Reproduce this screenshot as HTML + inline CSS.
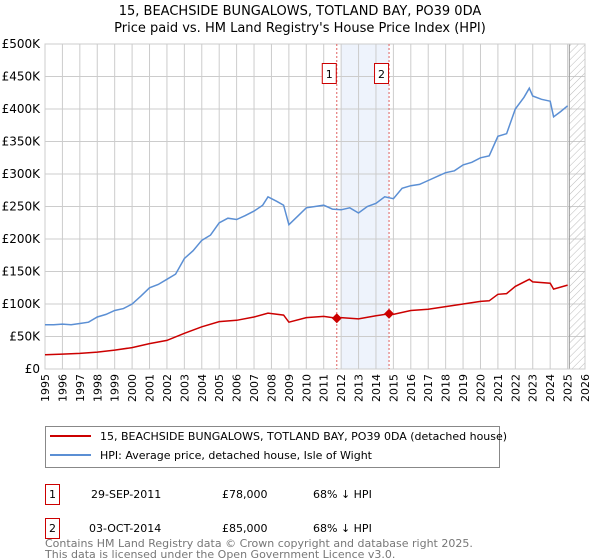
<!DOCTYPE html>
<html><head><meta charset="utf-8"><style>
body{margin:0;background:#fff;font-family:"Liberation Sans","DejaVu Sans",sans-serif;}
#wrap{position:relative;width:600px;height:560px;overflow:hidden}
</style></head><body><div id="wrap">
<svg id="svg" width="600" height="560" xmlns="http://www.w3.org/2000/svg" style="font-family:'DejaVu Sans','Liberation Sans',sans-serif">
<text x="300" y="15" text-anchor="middle" font-size="13">15, BEACHSIDE BUNGALOWS, TOTLAND BAY, PO39 0DA</text>
<text x="300" y="32" text-anchor="middle" font-size="13">Price paid vs. HM Land Registry's House Price Index (HPI)</text>
<g id="g"></g>
<g>
<rect x="45.5" y="426.5" width="454" height="41" fill="#fff" stroke="#888"/>
<line x1="50" y1="436" x2="91" y2="436" stroke="#cc0000" stroke-width="2"/>
<text x="100" y="440" font-size="11">15, BEACHSIDE BUNGALOWS, TOTLAND BAY, PO39 0DA (detached house)</text>
<line x1="50" y1="455" x2="91" y2="455" stroke="#5b8fd4" stroke-width="2"/>
<text x="100" y="459" font-size="11">HPI: Average price, detached house, Isle of Wight</text>
</g>
<g font-size="11">
<rect x="45.5" y="484.5" width="14" height="20" fill="none" stroke="#cc0000"/><text x="52.5" y="498" text-anchor="middle">1</text>
<text x="91" y="498">29-SEP-2011</text><text x="222" y="498">£78,000</text><text x="313" y="498">68% ↓ HPI</text>
<rect x="45.5" y="518.5" width="14" height="20" fill="none" stroke="#cc0000"/><text x="52.5" y="532" text-anchor="middle">2</text>
<text x="89" y="532">03-OCT-2014</text><text x="222" y="532">£85,000</text><text x="313" y="532">68% ↓ HPI</text>
</g>
<text x="45" y="547" font-size="11" fill="#777">Contains HM Land Registry data © Crown copyright and database right 2025.</text>
<text x="45" y="558" font-size="11" fill="#777">This data is licensed under the Open Government Licence v3.0.</text>
</svg></div>
<script>
const hpiYears=[1995,1995.5,1996,1996.5,1997,1997.5,1998,1998.5,1999,1999.5,2000,2000.5,2001,2001.5,2002,2002.5,2003,2003.5,2004,2004.5,2005,2005.5,2006,2006.5,2007,2007.5,2007.8,2008.3,2008.7,2009,2009.5,2010,2010.5,2011,2011.5,2012,2012.5,2013,2013.5,2014,2014.5,2015,2015.5,2016,2016.5,2017,2017.5,2018,2018.5,2019,2019.5,2020,2020.5,2021,2021.5,2022,2022.5,2022.8,2023,2023.5,2024,2024.2,2024.6,2025];
const hpiValues=[68,68,69,68,70,72,80,84,90,93,100,112,125,130,138,146,170,182,198,206,225,232,230,236,243,252,265,258,252,222,235,248,250,252,246,245,248,240,250,255,265,262,278,282,284,290,296,302,305,314,318,325,328,358,362,400,418,432,420,415,412,388,396,405];
const ppYears=[1995,1996,1997,1998,1999,2000,2001,2002,2003,2004,2005,2006,2007,2007.8,2008.7,2009,2010,2011,2011.75,2012,2013,2014,2014.75,2015,2016,2017,2018,2019,2020,2020.5,2021,2021.5,2022,2022.8,2023,2024,2024.2,2025];
const ppValues=[22,23,24,26,29,33,39,44,55,65,73,75,80,86,83,72,79,81,78,79,77,82,85,84,90,92,96,100,104,105,115,116,127,138,134,132,123,129];
const sales=[{id:"1",year:2011.75,value:78},{id:"2",year:2014.75,value:85}];
const yTicks=[0,50,100,150,200,250,300,350,400,450,500];
const xTicks=[];for(let y=1995;y<=2026;y++)xTicks.push(y);
const X0=45,X1=585,Y0=369,Y1=44;
const sx=y=>X0+(y-1995)/(31)*(X1-X0);
const sy=v=>Y0-v/500*(Y0-Y1);
const NS="http://www.w3.org/2000/svg";const g=document.getElementById('g');
function mk(t,a,p){const e=document.createElementNS(NS,t);for(const k in a)e.setAttribute(k,a[k]);(p||g).appendChild(e);return e;}
let sh=mk('rect',{x:sx(2012),y:Y1,width:sx(2014.75)-sx(2012),height:Y0-Y1,fill:'#eef3fc'});


xTicks.forEach(t=>{const l=mk('line',{x1:sx(t),x2:sx(t),y1:Y1,y2:Y0,stroke:'#ccc'});


const xx=sx(t)+4,yy=374;
const tx=mk('text',{x:xx,y:yy,'text-anchor':'end','font-size':11,transform:`rotate(-90 ${xx} ${yy})`});tx.textContent=t;

});
yTicks.forEach(t=>{const l=mk('line',{x1:X0,x2:X1,y1:sy(t),y2:sy(t),stroke:'#ccc'});


const tx=mk('text',{x:40,y:sy(t)+4,'text-anchor':'end','font-size':12});tx.textContent=t===0?'£0':'£'+t+'K';

});
const defs=mk('defs',{});const pat=mk('pattern',{id:'h',width:5,height:5,patternUnits:'userSpaceOnUse',patternTransform:'rotate(45)'},defs);
mk('line',{x1:0,y1:0,x2:0,y2:5,stroke:'#bbb','stroke-width':1},pat);
let hr=mk('rect',{x:sx(2025.1),y:Y1,width:X1-sx(2025.1),height:Y0-Y1,fill:'url(#h)',stroke:'#999'});


mk('rect',{x:X0,y:Y1,width:X1-X0,height:Y0-Y1,fill:'none',stroke:'#ccc'});
sales.forEach(s=>{const l=mk('line',{x1:sx(s.year),x2:sx(s.year),y1:Y1,y2:Y0,stroke:'#e06060','stroke-dasharray':'2,2'});


const b=mk('rect',{x:sx(s.year)-14.5,y:63.5,width:14,height:20,fill:'#fff',stroke:'#cc0000'});


const t=mk('text',{x:sx(s.year)-7.5,y:78,'text-anchor':'middle','font-size':11});t.textContent=s.id;

});
function path(xs,vs,col,name){const d=xs.map((x,i)=>(i?'L':'M')+sx(x).toFixed(1)+','+sy(vs[i]).toFixed(1)).join('');
const p=mk('path',{d:d,fill:'none',stroke:col,'stroke-width':1.5});

}
path(hpiYears,hpiValues,'#5b8fd4','hpi-line');
path(ppYears,ppValues,'#cc0000','property-line');
sales.forEach(s=>{const c=mk('path',{d:`M${sx(s.year)},${sy(s.value)-5}l5,5l-5,5l-5,-5z`,fill:'#cc0000'});

});
</script></body></html>
